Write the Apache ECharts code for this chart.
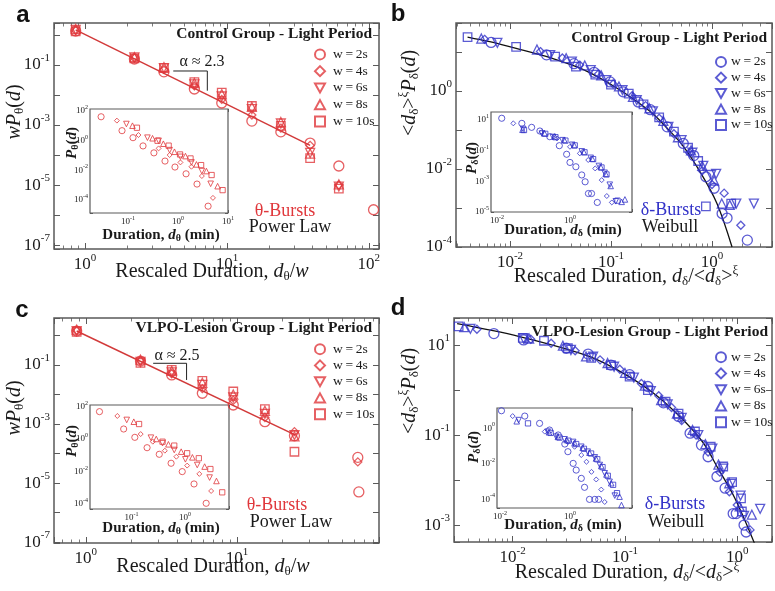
<!DOCTYPE html>
<html><head><meta charset="utf-8">
<script src="https://cdn.jsdelivr.net/npm/echarts@6/dist/echarts.min.js"></script>
<style>html,body{margin:0;padding:0;background:#fff}#c{width:775px;height:591px}</style>
</head><body><div id="c"></div><script>
// ================= DATA =================
// Panel a (Control, theta) main: [rescaled duration, wP(d)]
const aW2 = [[0.86,1.35],[2.23,0.158],[3.6,0.059],[5.9,0.0158],[9.2,0.0054],[15,0.00135],[24,5.9e-4],[38.6,2.5e-4],[61.5,4.3e-5],[108,1.5e-6]];
const aW4 = [[0.86,1.41],[2.23,0.17],[3.6,0.071],[5.9,0.02],[9.2,0.0071],[15,0.00214],[24,7.9e-4],[38.6,2.1e-4],[61.5,1.0e-5]];
const aW6 = [[0.86,1.48],[2.23,0.178],[3.6,0.079],[5.9,0.0224],[9.2,0.0089],[15,0.0034],[24,0.00112],[38.6,1.17e-4],[61.5,8.9e-6]];
const aW8 = [[0.86,1.58],[2.23,0.182],[3.6,0.085],[5.9,0.025],[9.2,0.0107],[15,0.004],[24,0.00126],[38.6,1.12e-4],[61.5,1.05e-5]];
const aW10 = [[0.86,1.32],[2.23,0.166],[3.6,0.079],[5.9,0.027],[9.2,0.012],[15,0.0043],[24,9.3e-4],[38.6,7.9e-5],[61.5,7.6e-6]];
const aFitX = [0.86, 38.6], aFitY = [1.47, 2.1e-4];
const aBrX = [4.19, 7.28, 7.28], aBrY = [0.063, 0.063, 0.0139];
// Panel a inset: [duration (min), P(d)]
const aiW2 = [[0.029,40.7],[0.076,4.7],[0.126,1.58],[0.2,0.44],[0.33,0.15],[0.55,0.042],[0.87,0.0166],[1.45,0.0058],[2.4,0.00118],[4.0,3.8e-5]];
const aiW4 = [[0.06,22.4],[0.162,2.4],[0.41,0.3],[0.68,0.107],[1.12,0.034],[1.86,0.0174],[3.0,0.0041],[5.0,1.38e-4]];
const aiW6 = [[0.093,13.2],[0.245,1.58],[0.41,0.98],[0.68,0.23],[1.12,0.081],[1.86,0.034],[3.0,0.0089],[4.5,0.00123]];
const aiW8 = [[0.123,10.2],[0.31,1.45],[0.51,0.62],[0.85,0.178],[1.41,0.091],[2.34,0.025],[3.7,0.0089],[6.2,8.5e-4]];
const aiW10 = [[0.151,7.4],[0.39,0.98],[0.65,0.46],[1.1,0.117],[1.78,0.063],[2.9,0.0224],[4.7,0.0048],[7.8,4.6e-4]];

// Panel b (Control, delta) main
const bW2 = [[0.0065,17.5],[0.023,8.4],[0.043,5.0],[0.068,3.0],[0.098,1.7],[0.132,0.95],[0.186,0.52],[0.245,0.33],[0.36,0.12],[0.52,0.045],[0.66,0.022],[0.87,0.0063],[1.05,0.0032],[1.26,7.2e-4],[1.41,5.5e-4],[2.24,1.5e-4]];
const bW4 = [[0.0056,21],[0.02,10.2],[0.033,7.0],[0.049,4.6],[0.075,2.7],[0.105,1.5],[0.162,0.75],[0.22,0.42],[0.3,0.2],[0.42,0.08],[0.6,0.026],[0.8,0.009],[1.0,0.004],[1.32,0.0024],[1.93,3.6e-4]];
const bW6 = [[0.0075,17],[0.025,8.3],[0.041,5.6],[0.063,3.4],[0.09,1.9],[0.13,1.05],[0.18,0.58],[0.26,0.3],[0.37,0.12],[0.5,0.055],[0.64,0.026],[0.82,0.012],[0.98,0.007],[1.1,0.0075],[1.74,0.0013],[2.6,0.0013]];
const bW8 = [[0.0052,22],[0.0185,11.5],[0.036,6.9],[0.055,4.5],[0.08,2.5],[0.12,1.3],[0.165,0.7],[0.24,0.36],[0.33,0.17],[0.46,0.065],[0.62,0.03],[0.8,0.012],[1.05,0.005],[1.25,0.0013],[1.5,0.0012]];
const bW10 = [[0.0038,24],[0.0115,13.5],[0.028,7.6],[0.045,4.2],[0.07,2.6],[0.1,1.45],[0.15,0.85],[0.21,0.45],[0.3,0.21],[0.42,0.09],[0.58,0.035],[0.73,0.016],[0.87,0.0011],[1.55,0.0013]];
const bFitX = [0.0038,0.0063,0.0115,0.025,0.054,0.115,0.245,0.36,0.525,0.776,1.12,1.58];
const bFitY = [24,18.2,12.3,7.1,3.47,1.17,0.295,0.11,0.037,0.0078,0.0013,1.0e-4];
// Panel b inset
const biW2 = [[0.0135,12.9],[0.048,6.0],[0.089,3.3],[0.15,1.9],[0.28,0.81],[0.51,0.21],[0.81,0.058],[1.0,0.017],[1.45,0.0089],[2.1,0.0026],[2.6,9.3e-4],[3.2,1.6e-4],[3.9,1.6e-4],[5.6,4.2e-5]];
const biW4 = [[0.028,6.0],[0.166,1.58],[0.44,0.63],[1.0,0.178],[1.86,0.066],[3.16,0.0245],[4.9,0.0069],[7.4,0.0012],[10.2,1.1e-4],[14,4.2e-5]];
const biW6 = [[0.052,2.6],[0.17,1.3],[0.34,0.78],[0.62,0.48],[1.15,0.24],[2.1,0.09],[3.7,0.034],[6.2,0.01],[8.9,0.0036],[12.3,6e-4],[18,5e-5]];
const biW8 = [[0.05,2.3],[0.2,1.4],[0.38,0.84],[0.7,0.5],[1.3,0.23],[2.4,0.082],[4.1,0.03],[7.0,0.0085],[9.5,0.0031],[13,5e-4],[26,4.6e-5],[32,6.6e-5]];
const biW10 = [[0.055,2.2],[0.21,1.25],[0.4,0.75],[0.75,0.45],[1.35,0.22],[2.5,0.078],[4.3,0.028],[7.3,0.008],[10,0.0028],[20,5.5e-5]];

// Panel c (VLPO, theta) main
const cW2 = [[0.87,1.41],[2.3,0.135],[3.7,0.046],[5.9,0.011],[9.45,0.0044],[15.3,0.0012],[24,4e-4],[63,7.4e-5],[64,5e-6]];
const cW4 = [[0.87,1.48],[2.3,0.141],[3.7,0.05],[5.9,0.0158],[9.45,0.0063],[15.3,0.00166],[24,5.5e-4],[63,5.2e-5]];
const cW6 = [[0.87,1.41],[2.3,0.126],[3.7,0.056],[5.9,0.021],[9.45,0.0079],[15.3,0.0022],[24,4.2e-4]];
const cW8 = [[0.87,1.58],[2.3,0.151],[3.7,0.063],[5.9,0.025],[9.45,0.01],[15.3,0.0028],[24,3.8e-4]];
const cW10 = [[0.87,1.32],[2.3,0.117],[3.7,0.068],[5.9,0.029],[9.45,0.0126],[15.3,0.0032],[24,1.15e-4]];
const cFitX = [0.87, 24.2], cFitY = [1.41, 4.3e-4];
const cBrX = [2.79, 4.64, 4.64], cBrY = [0.114, 0.114, 0.031];
// Panel c inset
const ciW2 = [[0.025,48],[0.071,4.1],[0.115,1.26],[0.195,0.29],[0.33,0.114],[0.55,0.032],[0.89,0.0098],[1.48,0.0017],[2.5,1.1e-4]];
const ciW4 = [[0.054,26],[0.148,2.0],[0.25,0.68],[0.42,0.19],[0.69,0.081],[1.1,0.023],[1.86,0.0071],[3.1,6.3e-4]];
const ciW6 = [[0.081,14.8],[0.23,1.2],[0.38,0.55],[0.63,0.21],[1.02,0.056],[1.7,0.025],[2.9,0.0042]];
const ciW8 = [[0.11,11.5],[0.29,1.0],[0.49,0.47],[0.85,0.166],[1.38,0.074],[2.34,0.02],[3.9,0.0026]];
const ciW10 = [[0.138,8.3],[0.38,0.68],[0.63,0.39],[1.1,0.132],[1.82,0.065],[3.0,0.0141],[5.0,5.2e-4]];

// Panel d (VLPO, delta) main
const dW2 = [[0.0068,18],[0.0125,13],[0.03,8.5],[0.047,6.3],[0.075,3.6],[0.11,2.2],[0.16,1.2],[0.22,0.52],[0.3,0.26],[0.38,0.11],[0.48,0.06],[0.55,0.033],[0.66,0.012],[0.78,0.0066],[0.92,0.0018],[0.98,0.0018],[1.15,0.001],[1.2,7e-4]];
const dW4 = [[0.0048,22.5],[0.0145,13.5],[0.022,11],[0.036,7.5],[0.06,4.7],[0.09,2.9],[0.14,1.4],[0.2,0.75],[0.26,0.41],[0.32,0.21],[0.43,0.1],[0.55,0.042],[0.7,0.015],[0.85,0.0055],[1.0,0.0028],[1.3,7.8e-4]];
const dW6 = [[0.0042,23],[0.0125,14],[0.033,7.8],[0.052,5.5],[0.08,3.3],[0.12,1.9],[0.17,0.95],[0.24,0.48],[0.32,0.24],[0.45,0.1],[0.6,0.05],[0.75,0.018],[0.88,0.0082],[1.07,0.0045],[1.15,0.0016],[1.6,0.0023]];
const dW8 = [[0.0037,25],[0.014,14],[0.028,9.7],[0.045,5.6],[0.07,4.0],[0.1,2.4],[0.15,1.25],[0.21,0.6],[0.29,0.3],[0.4,0.13],[0.52,0.063],[0.68,0.022],[0.85,0.0085],[1.05,0.0026],[1.35,0.0017]];
const dW10 = [[0.0033,26],[0.0123,14.5],[0.019,12.5],[0.031,8.5],[0.05,5.2],[0.075,3.6],[0.11,2.0],[0.16,1.0],[0.23,0.55],[0.3,0.3],[0.42,0.12],[0.58,0.055],[0.75,0.02],[0.9,0.009],[1.08,0.0039],[1.1,0.002]];
const dFitX = [0.0032,0.0115,0.0447,0.087,0.174,0.30,0.49,0.676,0.955,1.42];
const dFitY = [30,15.5,6.0,2.75,0.91,0.275,0.071,0.018,0.0039,4.0e-4];
// Panel d inset
const diW2 = [[0.011,9.8],[0.051,4.9],[0.135,1.9],[0.26,0.8],[0.46,0.42],[0.71,0.13],[0.87,0.048],[1.23,0.0105],[1.5,0.0044],[2.1,0.0015],[2.6,4.7e-4],[3.6,9.8e-5],[5.1,9.8e-5],[6.6,9.8e-5]];
const diW4 = [[0.023,4.9],[0.19,0.65],[0.87,0.17],[1.35,0.091],[2.1,0.031],[2.95,0.013],[4.1,0.0035],[5.6,0.0013],[7.8,3.5e-4],[9.8,7e-5]];
const diW6 = [[0.034,2.9],[0.23,0.65],[0.4,0.34],[0.7,0.24],[1.23,0.17],[2.1,0.091],[3.2,0.048],[5.1,0.023],[7.1,0.0085],[9.8,0.0029],[13.5,9.6e-4],[19,1.6e-4]];
const diW8 = [[0.03,2.5],[0.25,0.6],[0.45,0.33],[0.8,0.22],[1.35,0.15],[2.3,0.08],[3.6,0.042],[5.5,0.02],[7.8,0.0075],[11,0.0025],[15,8e-4],[26,1.4e-4],[29.5,4.7e-5]];
const diW10 = [[0.063,1.9],[0.28,0.55],[0.5,0.3],[0.9,0.2],[1.5,0.13],[2.5,0.07],[4.0,0.038],[6.0,0.018],[8.5,0.0065],[12,0.0021],[17,6.5e-4],[22,2.2e-4]];

// legend labels / window sizes
const windows = [2, 4, 6, 8, 10];
const titleTop = 'Control Group - Light Period';
const titleBottom = 'VLPO-Lesion Group - Light Period';

// axis ranges [min,max] per grid (a main, a inset, b main, b inset, c main, c inset, d main, d inset)
const xRanges = [[0.605,118],[0.0174,10],[0.00292,3.93],[0.00686,50],[0.616,87],[0.0166,6.7],[0.0030,2.04],[0.0082,59]];
const yRanges = [[7.4e-8,2.5],[1.32e-5,136],[1e-4,55],[1e-5,33],[9.3e-8,3.9],[4.9e-5,123],[4.2e-4,40],[3.2e-5,14]];

// ================= STYLE / LAYOUT =================
const SERIF = '"Liberation Serif","DejaVu Serif",serif';
const RED = '#e0383c', REDLINE = '#d23a3a', BLUE = '#3232c8', AXC = '#5a5a5a', TXT = '#1a1a1a';
const grids = [
  {left:54, top:23, width:325, height:226},
  {left:90, top:109, width:138, height:104},
  {left:456, top:23, width:316, height:224},
  {left:491, top:112, width:141, height:100},
  {left:54, top:318, width:325, height:225},
  {left:90, top:405, width:139, height:104},
  {left:454, top:318, width:318, height:224},
  {left:497, top:408, width:135, height:100}
];
const ALL = r => true, ODD = r => r % 2 !== 0, EVEN = r => r % 2 === 0;
const keepX = [ALL, ALL, ALL, EVEN, ALL, ALL, ALL, EVEN];
const keepY = [ODD, EVEN, EVEN, ODD, ODD, EVEN, ODD, EVEN];

function expFmt(keep) {
  return function (v) {
    const e = Math.log10(v), r = Math.round(e);
    if (Math.abs(e - r) > 1e-3 || !keep(r)) return '';
    return '{b|10}{s|' + (r < 0 ? '-' + (-r) : String(r)) + '}';
  };
}
const RICH_M = {b:{fontFamily:SERIF,fontSize:17,color:TXT}, s:{fontFamily:SERIF,fontSize:11,color:TXT,padding:[0,0,13,0]}};
const RICH_S = {b:{fontFamily:SERIF,fontSize:9,color:TXT}, s:{fontFamily:SERIF,fontSize:6,color:TXT,padding:[0,0,7,0]}};

const xAxis = [], yAxis = [];
grids.forEach((g, gi) => {
  const inset = gi % 2 === 1;
  const mk = (dim, range, keep) => {
    const base = {type:'log', logBase:10, gridIndex:gi, min:range[0], max:range[1],
      axisLine:{show:false}, splitLine:{show:false},
      axisTick:{show:true, inside:true, length: inset ? 3 : 6, lineStyle:{color:AXC, width:1}},
      minorTick: dim === 'x' ? {show:true, splitNumber:9, length: inset ? 2 : 3.5, lineStyle:{color:AXC, width:0.8}} : {show:false}};
    const prim = Object.assign({}, base, {position: dim === 'x' ? 'bottom' : 'left',
      axisLabel:{show:true, formatter: expFmt(keep), margin: inset ? 2 : 4, rich: inset ? RICH_S : RICH_M}});
    const sec = Object.assign({}, base, {position: dim === 'x' ? 'top' : 'right', axisLabel:{show:false}});
    return [prim, sec];
  };
  xAxis.push(...mk('x', xRanges[gi], keepX[gi]));
  yAxis.push(...mk('y', yRanges[gi], keepY[gi]));
});

const SYM = {2:'circle', 4:'path://M5,0L10,5L5,10L0,5Z', 6:'path://M0,0L10,0L5,9Z', 8:'path://M5,0L10,9L0,9Z', 10:'rect'};
const SZ = {2:10, 4:8, 6:9, 8:9, 10:8.5};
function sc(name, data, w, color, gi) {
  const k = gi % 2 === 1 ? 0.62 : 1;
  return {type:'scatter', name, data, xAxisIndex: gi*2, yAxisIndex: gi*2, symbol: SYM[w], symbolSize: SZ[w]*k,
    itemStyle:{color:'rgba(255,255,255,0)', borderColor: color, borderWidth: gi % 2 === 1 ? 1 : 1.3}, z:4, silent:true};
}
function ln(xs, ys, gi, color, width, smooth) {
  return {type:'line', data: xs.map((x, i) => [x, ys[i]]), xAxisIndex: gi*2, yAxisIndex: gi*2, symbol:'none',
    smooth: smooth ? 0.35 : false, lineStyle:{color, width}, z:3, silent:true};
}
const series = [];
const panels = [
  {p:'a', main:[aW2,aW4,aW6,aW8,aW10], ins:[aiW2,aiW4,aiW6,aiW8,aiW10], color:RED, g:0},
  {p:'b', main:[bW2,bW4,bW6,bW8,bW10], ins:[biW2,biW4,biW6,biW8,biW10], color:BLUE, g:2},
  {p:'c', main:[cW2,cW4,cW6,cW8,cW10], ins:[ciW2,ciW4,ciW6,ciW8,ciW10], color:RED, g:4},
  {p:'d', main:[dW2,dW4,dW6,dW8,dW10], ins:[diW2,diW4,diW6,diW8,diW10], color:BLUE, g:6}
];
panels.forEach(P => {
  windows.forEach((w, i) => {
    series.push(sc(P.p + w, P.main[i], w, P.color, P.g));
    series.push(sc(P.p + 'i' + w, P.ins[i], w, P.color, P.g + 1));
  });
});
series.push(ln(aFitX, aFitY, 0, REDLINE, 1.5, false));
series.push(ln(cFitX, cFitY, 4, REDLINE, 1.5, false));
series.push(ln(bFitX, bFitY, 2, '#111', 1.3, true));
series.push(ln(dFitX, dFitY, 6, '#111', 1.3, true));
series.push(ln(aBrX, aBrY, 0, '#222', 1, false));
series.push(ln(cBrX, cBrY, 4, '#222', 1, false));

const TS = '\u2009';
function legendFor(p, left, top, lh, padL) {
  return {data: windows.map(w => p + w), orient:'vertical', left, top, padding:0, itemWidth:10, itemHeight:10, itemGap:0,
    selectedMode:false, formatter: n => 'w' + TS + '=' + TS + n.slice(1) + 's',
    textStyle:{fontFamily:SERIF, fontSize:13.5, color:TXT, lineHeight:lh, padding:[0,0,0,padL]}};
}
const legend = [legendFor('a', 314, 46, 16.75, 3), legendFor('b', 715, 54, 15.75, 0), legendFor('c', 314, 341, 16.25, 3), legendFor('d', 715, 349, 16.25, 0)];

function R(size, bold, color) {
  const fw = bold ? 'bold' : 'normal', c = color || TXT, sub = Math.round(size * 0.65);
  const st = (o) => Object.assign({fontFamily:SERIF, fontWeight:fw, fill:c, color:c, fontSize:size}, o);
  return {n: st({}), i: st({fontStyle:'italic'}), s: st({fontSize:sub, padding:[Math.round(size*0.45),0,0,0]}),
    p: st({fontSize:sub, padding:[0,0,Math.round(size*0.6),0]})};
}
function T(x, y, text, rich, rot, align) {
  return {type:'text', x, y, rotation: rot || 0, silent:true, z:50,
    style:{text, rich, align: align || 'center', verticalAlign:'middle', textAlign: align || 'center', textVerticalAlign:'middle'}};
}
const R20 = R(20, false), R15B = R(15, true), R16 = R(16, false);
const G = [];
[['a',23,15],['b',398,14],['c',22,310],['d',398,308]].forEach(([t,x,y]) => G.push({type:'text', x, y, silent:true, z:50,
  style:{text:t, font:'bold 24px "Liberation Sans", Arial, sans-serif', fill:'#111', align:'center', verticalAlign:'middle'}}));
G.push(T(372, 34, '{n|' + titleTop + '}', R(15.5, true), 0, 'right'));
G.push(T(767, 38, '{n|' + titleTop + '}', R(15.5, true), 0, 'right'));
G.push(T(372, 328, '{n|' + titleBottom + '}', R(15.5, true), 0, 'right'));
G.push(T(768, 332, '{n|' + titleBottom + '}', R(15.5, true), 0, 'right'));
G.push(T(285, 211, '{n|θ-Bursts}', R(18, false, RED)));
G.push(T(290, 227, '{n|Power Law}', R(18, false)));
G.push(T(277, 505, '{n|θ-Bursts}', R(18, false, RED)));
G.push(T(291, 522, '{n|Power Law}', R(18, false)));
G.push(T(671, 210, '{n|δ-Bursts}', R(18, false, BLUE)));
G.push(T(670, 227, '{n|Weibull}', R(18, false)));
G.push(T(675, 504, '{n|δ-Bursts}', R(18, false, BLUE)));
G.push(T(676, 522, '{n|Weibull}', R(18, false)));
G.push(T(202, 62, '{n|α ≈ 2.3}', R16));
G.push(T(177, 356, '{n|α ≈ 2.5}', R16));
const xtTheta = '{n|Rescaled Duration, }{i|d}{s|θ}{n|/}{i|w}';
const xtDelta = '{n|Rescaled Duration, }{i|d}{s|δ}{n|/<}{i|d}{s|δ}{n|>}{p|ξ}';
G.push(T(212, 272, xtTheta, R20));
G.push(T(213, 567, xtTheta, R20));
G.push(T(626, 277, xtDelta, R20));
G.push(T(627, 573, xtDelta, R20));
const ytTheta = '{i|wP}{s|θ}{n|(}{i|d}{n|)}';
const ytDelta = '{n|<}{i|d}{s|δ}{n|>}{p|ξ}{i|P}{s|δ}{n|(}{i|d}{n|)}';
G.push(T(15, 112, ytTheta, R20, Math.PI/2));
G.push(T(15, 408, ytTheta, R20, Math.PI/2));
G.push(T(410, 93, ytDelta, R20, Math.PI/2));
G.push(T(410, 391, ytDelta, R20, Math.PI/2));
G.push(T(161, 235, '{n|Duration, }{i|d}{s|θ}{n| (min)}', R15B));
G.push(T(161, 528, '{n|Duration, }{i|d}{s|θ}{n| (min)}', R15B));
G.push(T(563, 230, '{n|Duration, }{i|d}{s|δ}{n| (min)}', R15B));
G.push(T(563, 525, '{n|Duration, }{i|d}{s|δ}{n| (min)}', R15B));
G.push(T(72, 143, '{i|P}{s|θ}{n|(}{i|d}{n|)}', R15B, Math.PI/2));
G.push(T(72, 441, '{i|P}{s|θ}{n|(}{i|d}{n|)}', R15B, Math.PI/2));
G.push(T(472, 158, '{i|P}{s|δ}{n|(}{i|d}{n|)}', R15B, Math.PI/2));
G.push(T(474, 447, '{i|P}{s|δ}{n|(}{i|d}{n|)}', R15B, Math.PI/2));

const chart = echarts.init(document.getElementById('c'), null, {renderer:'canvas'});
chart.setOption({
  animation:false, backgroundColor:'#fff',
  textStyle:{fontFamily:SERIF},
  grid: grids.map((g, gi) => Object.assign({show:true, borderColor:AXC, borderWidth: gi % 2 ? 1.2 : 1.5,
    backgroundColor: gi % 2 ? '#fff' : 'transparent', z: gi % 2 ? 1 : 0}, g)),
  xAxis, yAxis, series, legend,
  graphic:{elements:G}
});
</script></body></html>
